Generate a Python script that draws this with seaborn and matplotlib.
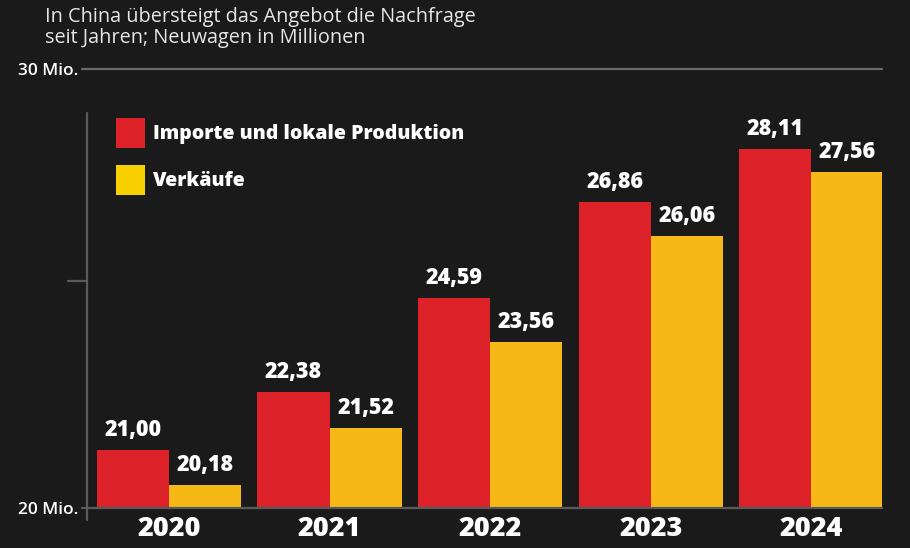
import matplotlib
matplotlib.use("Agg")
import matplotlib.pyplot as plt
import seaborn as sns
import pandas as pd
from matplotlib.patches import Patch
import matplotlib.transforms as mtrans

years = ["2020", "2021", "2022", "2023", "2024"]
series_names = ["Importe und lokale Produktion", "Verkäufe"]
supply = [21.00, 22.38, 24.59, 26.86, 28.11]
sales = [20.18, 21.52, 23.56, 26.06, 27.56]
ytick_values = [19.64, 25, 30]
ytick_labels = ["20 Mio.", "", "30 Mio."]
title = "In China übersteigt das Angebot die Nachfrage\nseit Jahren; Neuwagen in Millionen"

BG = "#1a1a1a"
RED = "#dc2129"
YEL = "#f6b816"
LEG_YEL = "#f8d000"
FONT = ["Open Sans", "DejaVu Sans"]

df = pd.DataFrame({
    "Jahr": years * 2,
    "Serie": [series_names[0]] * len(years) + [series_names[1]] * len(years),
    "Wert": supply + sales,
})

sns.set_theme(style="dark")
plt.rcParams["font.family"] = FONT

W, H = 910, 548
fig = plt.figure(figsize=(W / 100, H / 100), dpi=100, facecolor=BG)
ax_left, ax_right, ax_top, ax_bot = 87, 882, 69, 508
ax = fig.add_axes([ax_left / W, 1 - ax_bot / H, (ax_right - ax_left) / W, (ax_bot - ax_top) / H])
ax.set_facecolor(BG)

sns.barplot(data=df, x="Jahr", y="Wert", hue="Serie", order=years, hue_order=series_names,
            palette=[RED, YEL], width=0.9, linewidth=0, saturation=1, ax=ax, legend=False)

ax.set_ylim(ytick_values[0], 30)
ax.set_xlim(-0.511, 4.44)
for s in ax.spines.values():
    s.set_visible(False)
ax.grid(False)
ax.set_xlabel("")
ax.set_ylabel("")

# y ticks
ax.set_yticks(ytick_values)
ax.set_yticklabels(ytick_labels, color="white", fontsize=12.5, fontweight="semibold")
ax.tick_params(axis="y", length=0, pad=6)
# x tick labels (years)
ax.set_xticks(range(len(years)))
ax.set_xticklabels(years, color="white", fontsize=19.5, fontweight="heavy")
ax.tick_params(axis="x", length=0, pad=6)

# reference lines
tr = mtrans.blended_transform_factory(ax.transAxes, ax.transData)
ax.plot([-5 / 795, 1.0], [30, 30], transform=tr, color="#6a6a6a", lw=1.6, clip_on=False, zorder=1)
ax.plot([-5 / 795, 1.0], [ytick_values[0], ytick_values[0]], transform=tr, color="#5a5a5a", lw=1.6, clip_on=False, zorder=3)
ax.plot([0, 0], [-12 / 439, 395 / 439], transform=ax.transAxes, color="#5a5a5a", lw=1.6, clip_on=False, zorder=1)
ax.plot([-19 / 795, -1 / 795], [25, 25], transform=tr, color="#5a5a5a", lw=1.6, clip_on=False)

# value labels
for cont in ax.containers:
    labels = [f"{b.get_height():.2f}".replace(".", ",") for b in cont]
    ax.bar_label(cont, labels=labels, padding=6, color="white", fontsize=15.5, fontweight="heavy")

# legend
handles = [Patch(facecolor=RED, edgecolor="none"), Patch(facecolor=LEG_YEL, edgecolor="none")]
leg = ax.legend(handles, series_names, loc="upper left",
                bbox_to_anchor=(116 / W, 1 - 118 / H), bbox_transform=fig.transFigure,
                frameon=False, prop={"weight": "heavy", "size": 14},
                handlelength=1.5, handleheight=2.0, handletextpad=0.4,
                labelspacing=0.85, borderpad=0, borderaxespad=0)
for t in leg.get_texts():
    t.set_color("white")

fig.text(45 / W, 1 - 7 / H, title, color="#e6e6e6", fontsize=14.3, va="top", ha="left", linespacing=1.05)

fig.savefig("out.png", dpi=100, facecolor=BG)
